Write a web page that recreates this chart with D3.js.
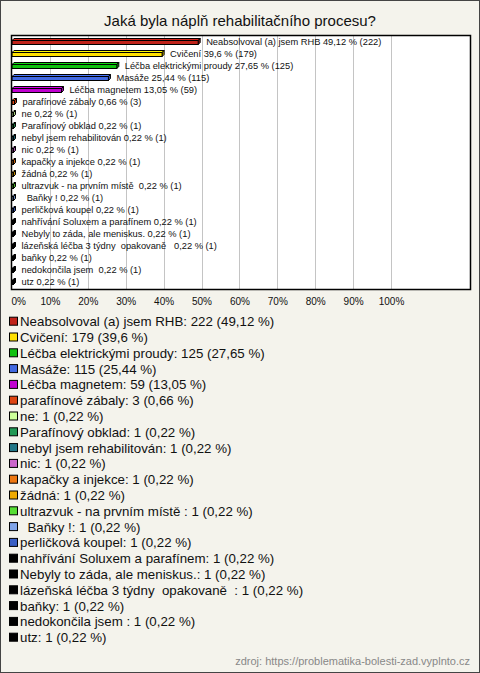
<!DOCTYPE html>
<html><head><meta charset="utf-8">
<script src="https://cdn.jsdelivr.net/npm/d3@7/dist/d3.min.js"></script>
<style>
html,body{margin:0;padding:0;background:#f4f3ec;}
svg{display:block;}
text{font-family:"Liberation Sans",Arial,sans-serif;white-space:pre;}
</style></head>
<body>
<svg id="chart" width="480" height="673"></svg>
<script>
const title = "Jaká byla náplň rehabilitačního procesu?";
const categories = [
  "Neabsolvoval (a) jsem RHB","Cvičení","Léčba elektrickými proudy","Masáže","Léčba magnetem",
  "parafínové zábaly","ne","Parafínový obklad","nebyl jsem rehabilitován","nic",
  "kapačky a injekce","žádná","ultrazvuk - na prvním místě ","  Baňky !","perličková koupel",
  "nahřívání Soluxem a parafínem","Nebyly to záda, ale meniskus.","lázeňská léčba 3 týdny  opakovaně  ",
  "baňky","nedokončila jsem ","utz"
];
const counts = [222,179,125,115,59,3,1,1,1,1,1,1,1,1,1,1,1,1,1,1,1];
const percents = [49.12,39.6,27.65,25.44,13.05,0.66,0.22,0.22,0.22,0.22,0.22,0.22,0.22,0.22,0.22,0.22,0.22,0.22,0.22,0.22,0.22];
const colors = ["#c0231a","#ffe000","#10c010","#4169e1","#c000d0","#dd4411","#ccff99","#229955","#227788","#cc66cc",
  "#ee7711","#eeaa00","#55dd33","#80a4e8","#3a5fc4","#000000","#000000","#000000","#000000","#000000","#000000"];
const tickValues = [0,10,20,30,40,50,60,70,80,90,100];
const source = "zdroj: https://problematika-bolesti-zad.vyplnto.cz";

const fmt = v => String(v).replace(".", ",");
const svg = d3.select("#chart");
const W = 480, H = 673;

svg.append("rect").attr("x",0.5).attr("y",0.5).attr("width",W-1).attr("height",H-1)
  .attr("fill","#f4f3ec").attr("stroke","#444");

svg.append("text").attr("x",240).attr("y",26).attr("text-anchor","middle")
  .attr("font-size",15).attr("fill","#111").text(title);

const plot = {l:11, r:470, t:35, b:289};
svg.append("rect").attr("x",plot.l+0.5).attr("y",plot.t+0.5)
  .attr("width",plot.r-plot.l).attr("height",plot.b-plot.t)
  .attr("fill","#fff");

const x = d3.scaleLinear().domain([0,100]).range([12,391]);
const y = d3.scaleBand().domain(categories).range([35.5,287.5]).padding(0);

// gridlines
svg.append("g").selectAll("line").data(tickValues.slice(1)).join("line")
  .attr("x1",d=>Math.round(x(d))+0.5).attr("x2",d=>Math.round(x(d))+0.5)
  .attr("y1",plot.t).attr("y2",plot.b).attr("stroke","#c4c4c4").attr("stroke-width",1);

// bars (3D style)
const d = 2, bh = 4;
const shade = (c,k) => d3.color(c).darker(k).formatHex();
const bars = svg.append("g").selectAll("g").data(categories).join("g");
bars.each(function(cat,i){
  const g = d3.select(this);
  const x0 = x(0), x1 = Math.max(x(percents[i]), x0+1.5);
  const yc = y(cat) + y.bandwidth()/2;
  const top = yc - bh/2 + 1, bot = top + bh;
  const c = colors[i];
  g.append("path").attr("d",`M${x0},${top}L${x0+d},${top-d}L${x1+d},${top-d}L${x1},${top}Z`)
    .attr("fill",d3.color(c).brighter(0.3).formatHex()).attr("stroke","#000").attr("stroke-width",1).attr("stroke-linejoin","round");
  g.append("path").attr("d",`M${x1},${top}L${x1+d},${top-d}L${x1+d},${bot-d}L${x1},${bot}Z`)
    .attr("fill",shade(c,0.6)).attr("stroke","#000").attr("stroke-width",1).attr("stroke-linejoin","round");
  g.append("rect").attr("x",x0).attr("y",top).attr("width",x1-x0).attr("height",bh)
    .attr("fill",c).attr("stroke","#000").attr("stroke-width",1);
  g.append("text").attr("x",x1+d+6).attr("y",yc+3.5).attr("font-size",9.3).attr("fill","#111")
    .text(`${cat} ${fmt(percents[i])} % (${counts[i]})`);
});

// plot border
svg.append("rect").attr("x",plot.l+0.5).attr("y",plot.t+0.5)
  .attr("width",plot.r-plot.l).attr("height",plot.b-plot.t)
  .attr("fill","none").attr("stroke","#000").attr("stroke-width",1.5);

// x axis
const ax = svg.append("g").attr("transform",`translate(0,${plot.b})`)
  .call(d3.axisBottom(x).tickValues(tickValues).tickFormat(v=>v+"%").tickSize(0).tickPadding(9));
ax.select(".domain").remove();
ax.selectAll("text").attr("font-size",10).attr("fill","#111").attr("font-family","Liberation Sans, Arial, sans-serif");
ax.selectAll(".tick").filter(v=>v===0).select("text").attr("text-anchor","start").attr("x",-1);

// legend
const lg = svg.append("g").selectAll("g").data(categories).join("g")
  .attr("transform",(c,i)=>`translate(0,${321.7 + i*15.8})`);
lg.append("rect").attr("x",9.5).attr("y",-4.5).attr("width",8).attr("height",8)
  .attr("fill",(c,i)=>colors[i]).attr("stroke","#000").attr("stroke-width",1);
lg.append("text").attr("x",20).attr("y",4.5).attr("font-size",13.3).attr("fill","#111")
  .text((c,i)=>`${c}: ${counts[i]} (${fmt(percents[i])} %)`);

svg.append("text").attr("x",470).attr("y",665).attr("text-anchor","end")
  .attr("font-size",11).attr("fill","#888").text(source);
</script>
</body></html>
